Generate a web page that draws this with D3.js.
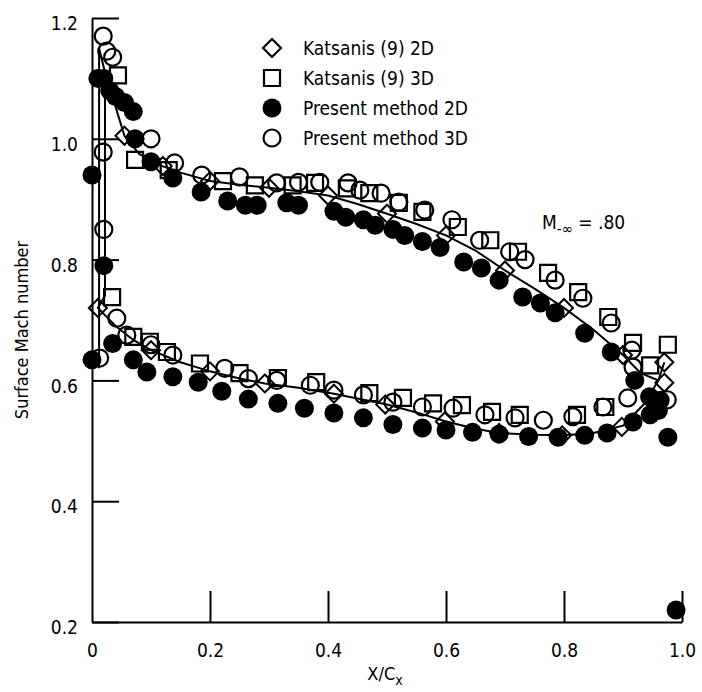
<!DOCTYPE html>
<html>
<head>
<meta charset="utf-8">
<script src="https://cdn.jsdelivr.net/npm/d3@7"></script>
<style>
  body { margin: 0; background: #fff; }
  text { font-family: "DejaVu Sans Condensed", "DejaVu Sans", sans-serif; fill: #000; }
</style>
</head>
<body>
<script>
// surface mach number along the blade, M = .80

var width = 702;
var height = 692;

var xTicks = [0, 0.2, 0.4, 0.6, 0.8, 1.0];
var yTicks = [0.2, 0.4, 0.6, 0.8, 1.0, 1.2];

var legendLabels = ["Katsanis (9) 2D", "Katsanis (9) 3D", "Present method 2D", "Present method 3D"];

// Katsanis (9) 2D solid curve  [x/cx, mach]
var katsanis2DCurveUpper = [[0.012, 0.62], [0.012, 1.15], [0.022, 1.11], [0.055, 1.005], [0.08, 0.975],
  [0.11, 0.958], [0.15, 0.944], [0.2, 0.93], [0.25, 0.924], [0.3, 0.919], [0.35, 0.913], [0.4, 0.906],
  [0.45, 0.892], [0.5, 0.876], [0.55, 0.859], [0.6, 0.84], [0.65, 0.815], [0.7, 0.782], [0.75, 0.752],
  [0.8, 0.72], [0.85, 0.684], [0.9, 0.642], [0.93, 0.612], [0.96, 0.6], [0.97, 0.63]];
var katsanis2DCurveLower = [[0.022, 1.11], [0.022, 0.74], [0.01, 0.72], [0.04, 0.69], [0.07, 0.667],
  [0.1, 0.65], [0.15, 0.63], [0.2, 0.615], [0.25, 0.603], [0.293, 0.595], [0.35, 0.588], [0.41, 0.578],
  [0.45, 0.57], [0.5, 0.56], [0.55, 0.547], [0.6, 0.532], [0.65, 0.52], [0.69, 0.513], [0.75, 0.51],
  [0.8, 0.509], [0.85, 0.513], [0.9, 0.525], [0.935, 0.56], [0.96, 0.6]];

// Katsanis (9) 2D : diamonds
var katsanis2DUpper = [[0.055, 1.005], [0.12, 0.955], [0.2, 0.93], [0.3, 0.919], [0.4, 0.906], [0.5, 0.876],
  [0.6, 0.84], [0.7, 0.782], [0.8, 0.72], [0.9, 0.642], [0.97, 0.63], [0.97, 0.596]];
var katsanis2DLower = [[0.01, 0.72], [0.1, 0.65], [0.2, 0.615], [0.293, 0.595], [0.41, 0.578], [0.497, 0.56],
  [0.598, 0.532], [0.69, 0.513], [0.797, 0.509], [0.898, 0.523]];

// Katsanis (9) 3D : open squares
var katsanis3DUpper = [[0.044, 1.105], [0.073, 0.965], [0.13, 0.948], [0.222, 0.93], [0.276, 0.923], [0.34, 0.923],
  [0.378, 0.927], [0.432, 0.918], [0.47, 0.91], [0.52, 0.894], [0.56, 0.879], [0.62, 0.854], [0.675, 0.832],
  [0.722, 0.813], [0.773, 0.778], [0.824, 0.746], [0.875, 0.705], [0.917, 0.662], [0.946, 0.625], [0.976, 0.659]];
var katsanis3DLower = [[0.034, 0.738], [0.07, 0.672], [0.098, 0.664], [0.127, 0.647], [0.183, 0.628],
  [0.25, 0.612], [0.315, 0.604], [0.38, 0.597], [0.47, 0.579], [0.527, 0.571], [0.578, 0.562], [0.627, 0.559],
  [0.678, 0.548], [0.725, 0.543], [0.822, 0.543], [0.87, 0.556]];

// Present method 2D : filled circles
var present2DUpper = [[0.0, 0.94], [0.02, 0.79], [0.01, 1.1], [0.02, 1.1], [0.03, 1.08], [0.04, 1.07],
  [0.055, 1.06], [0.07, 1.045], [0.073, 1.0], [0.1, 0.962], [0.137, 0.935], [0.185, 0.912], [0.23, 0.897],
  [0.26, 0.89], [0.28, 0.89], [0.33, 0.894], [0.35, 0.89], [0.41, 0.88], [0.43, 0.87], [0.46, 0.866],
  [0.48, 0.857], [0.51, 0.85], [0.53, 0.84], [0.56, 0.83], [0.59, 0.82], [0.63, 0.796], [0.66, 0.786],
  [0.69, 0.766], [0.73, 0.738], [0.76, 0.728], [0.785, 0.712], [0.835, 0.678], [0.88, 0.647], [0.92, 0.6],
  [0.945, 0.573], [0.96, 0.55], [0.976, 0.506], [0.99, 0.22]];
var present2DLower = [[0.0, 0.634], [0.035, 0.661], [0.07, 0.634], [0.093, 0.614], [0.137, 0.606],
  [0.18, 0.597], [0.22, 0.582], [0.265, 0.569], [0.315, 0.562], [0.36, 0.554], [0.41, 0.546], [0.46, 0.538],
  [0.51, 0.527], [0.56, 0.521], [0.6, 0.518], [0.645, 0.514], [0.69, 0.511], [0.74, 0.507], [0.79, 0.506],
  [0.835, 0.509], [0.873, 0.513], [0.917, 0.531], [0.946, 0.543], [0.963, 0.567]];

// Present method 3D : open circles
var present3DUpper = [[0.019, 1.17], [0.025, 1.145], [0.035, 1.135], [0.019, 0.978], [0.02, 0.85], [0.1, 1.0],
  [0.14, 0.96], [0.186, 0.94], [0.25, 0.937], [0.313, 0.927], [0.35, 0.928], [0.386, 0.928], [0.434, 0.927],
  [0.454, 0.915], [0.49, 0.91], [0.52, 0.895], [0.564, 0.882], [0.61, 0.866], [0.657, 0.832], [0.708, 0.813],
  [0.734, 0.8], [0.785, 0.766], [0.832, 0.736], [0.88, 0.695], [0.915, 0.65], [0.917, 0.622]];
var present3DLower = [[0.013, 0.637], [0.042, 0.703], [0.059, 0.675], [0.1, 0.659], [0.137, 0.642],
  [0.225, 0.62], [0.265, 0.603], [0.313, 0.6], [0.37, 0.592], [0.41, 0.584], [0.46, 0.576], [0.51, 0.564],
  [0.56, 0.556], [0.612, 0.554], [0.666, 0.543], [0.717, 0.538], [0.765, 0.534], [0.815, 0.54],
  [0.866, 0.556], [0.908, 0.571], [0.975, 0.568]];

var svg = d3.select("body")
  .append("svg")
  .attr("width", width)
  .attr("height", height);

// scales
var xScale = d3.scaleLinear()
  .domain([0, 1])
  .range([92, 682]);

var yScale = d3.scaleLinear()
  .domain([0.2, 1.2])
  .range([622, 18]);

// y axis, ticks point into the plot
var yAxis = d3.axisLeft(yScale)
  .tickValues(yTicks)
  .tickSizeInner(-27)
  .tickSizeOuter(0)
  .tickPadding(14)
  .tickFormat(d3.format(".1f"));

svg.append("g")
  .attr("transform", "translate(" + [92, 0] + ")")
  .call(yAxis)
  .call(function(g) {
    g.selectAll("path, line").attr("stroke", "#000").attr("stroke-width", 2);
    g.selectAll("text").attr("font-size", 19).attr("fill", "#000").attr("dy", "0.62em").style("font-family", null);
  });

// x axis, ticks point up
var xAxis = d3.axisBottom(xScale)
  .tickValues(xTicks)
  .tickSizeInner(-31)
  .tickSizeOuter(0)
  .tickPadding(22)
  .tickFormat(function(d) { return d === 0 ? "0" : d3.format(".1f")(d); });

svg.append("g")
  .attr("transform", "translate(" + [0, 622] + ")")
  .call(xAxis)
  .call(function(g) {
    g.selectAll("path, line").attr("stroke", "#000").attr("stroke-width", 2);
    g.selectAll("text").attr("font-size", 19).attr("fill", "#000").style("font-family", null);
    g.select(".tick line").remove();
  });

// axis titles
svg.append("text")
  .attr("text-anchor", "middle")
  .attr("font-size", 18)
  .attr("fill", "#000")
  .attr("transform", "translate(" + [28, 330] + ") rotate(-90)")
  .text("Surface Mach number");

var xt = svg.append("text")
  .attr("text-anchor", "middle")
  .attr("font-size", 18)
  .attr("fill", "#000")
  .attr("x", 385)
  .attr("y", 680);
xt.append("tspan").text("X/C");
xt.append("tspan").attr("font-size", 14).attr("dy", 5).text("x");

// symbol shapes
function diamondPath(s) {
  return "M0," + (-s) + "L" + s + ",0L0," + s + "L" + (-s) + ",0Z";
}
function squarePath(s) {
  return "M" + (-s) + "," + (-s) + "H" + s + "V" + s + "H" + (-s) + "Z";
}

// Katsanis 2D solid curve
var line = d3.line()
  .x(function(d) { return xScale(d[0]); })
  .y(function(d) { return yScale(d[1]); });

[katsanis2DCurveUpper, katsanis2DCurveLower].forEach(function(series) {
  svg.append("path")
    .datum(series)
    .attr("d", line)
    .attr("fill", "none")
    .attr("stroke", "#000")
    .attr("stroke-width", 2);
});

// diamonds
svg.append("g").selectAll("path")
  .data(katsanis2DUpper.concat(katsanis2DLower))
  .enter()
  .append("path")
  .attr("d", diamondPath(9))
  .attr("transform", function(d) { return "translate(" + [xScale(d[0]), yScale(d[1])] + ")"; })
  .attr("fill", "none")
  .attr("stroke", "#000")
  .attr("stroke-width", 2);

// filled circles
svg.append("g").selectAll("circle")
  .data(present2DUpper.concat(present2DLower))
  .enter()
  .append("circle")
  .attr("cx", function(d) { return xScale(d[0]); })
  .attr("cy", function(d) { return yScale(d[1]); })
  .attr("r", 9.5)
  .attr("fill", "#000");

// squares
svg.append("g").selectAll("path")
  .data(katsanis3DUpper.concat(katsanis3DLower))
  .enter()
  .append("path")
  .attr("d", squarePath(8))
  .attr("transform", function(d) { return "translate(" + [xScale(d[0]), yScale(d[1])] + ")"; })
  .attr("fill", "none")
  .attr("stroke", "#000")
  .attr("stroke-width", 2.2);

// open circles
svg.append("g").selectAll("circle")
  .data(present3DUpper.concat(present3DLower))
  .enter()
  .append("circle")
  .attr("cx", function(d) { return xScale(d[0]); })
  .attr("cy", function(d) { return yScale(d[1]); })
  .attr("r", 8.5)
  .attr("fill", "none")
  .attr("stroke", "#000")
  .attr("stroke-width", 2.2);

// legend
var legend = svg.selectAll(".legend")
  .data(legendLabels)
  .enter()
  .append("g")
  .attr("class", "legend")
  .attr("transform", function(d, i) { return "translate(" + [272, 48 + i * 30] + ")"; });

legend.append("path")
  .attr("d", function(d, i) {
    if (i === 0) return diamondPath(9);
    if (i === 1) return squarePath(8);
    return d3.symbol().type(d3.symbolCircle).size(i === 2 ? 283 : 227)();
  })
  .attr("fill", function(d, i) { return i === 2 ? "#000" : "none"; })
  .attr("stroke", "#000")
  .attr("stroke-width", function(d, i) { return i === 2 ? 0 : 2.2; });

legend.append("text")
  .attr("x", 31)
  .attr("dy", "0.35em")
  .attr("font-size", 19)
  .attr("fill", "#000")
  .text(function(d) { return d; });

// free stream mach number
var mt = svg.append("text")
  .attr("x", 542)
  .attr("y", 229)
  .attr("font-size", 19)
  .attr("fill", "#000");
mt.append("tspan").text("M");
mt.append("tspan").attr("font-size", 15).attr("dy", 5).text("-\u221E");
mt.append("tspan").attr("dy", -5).text(" = .80");
</script>
</body>
</html>
